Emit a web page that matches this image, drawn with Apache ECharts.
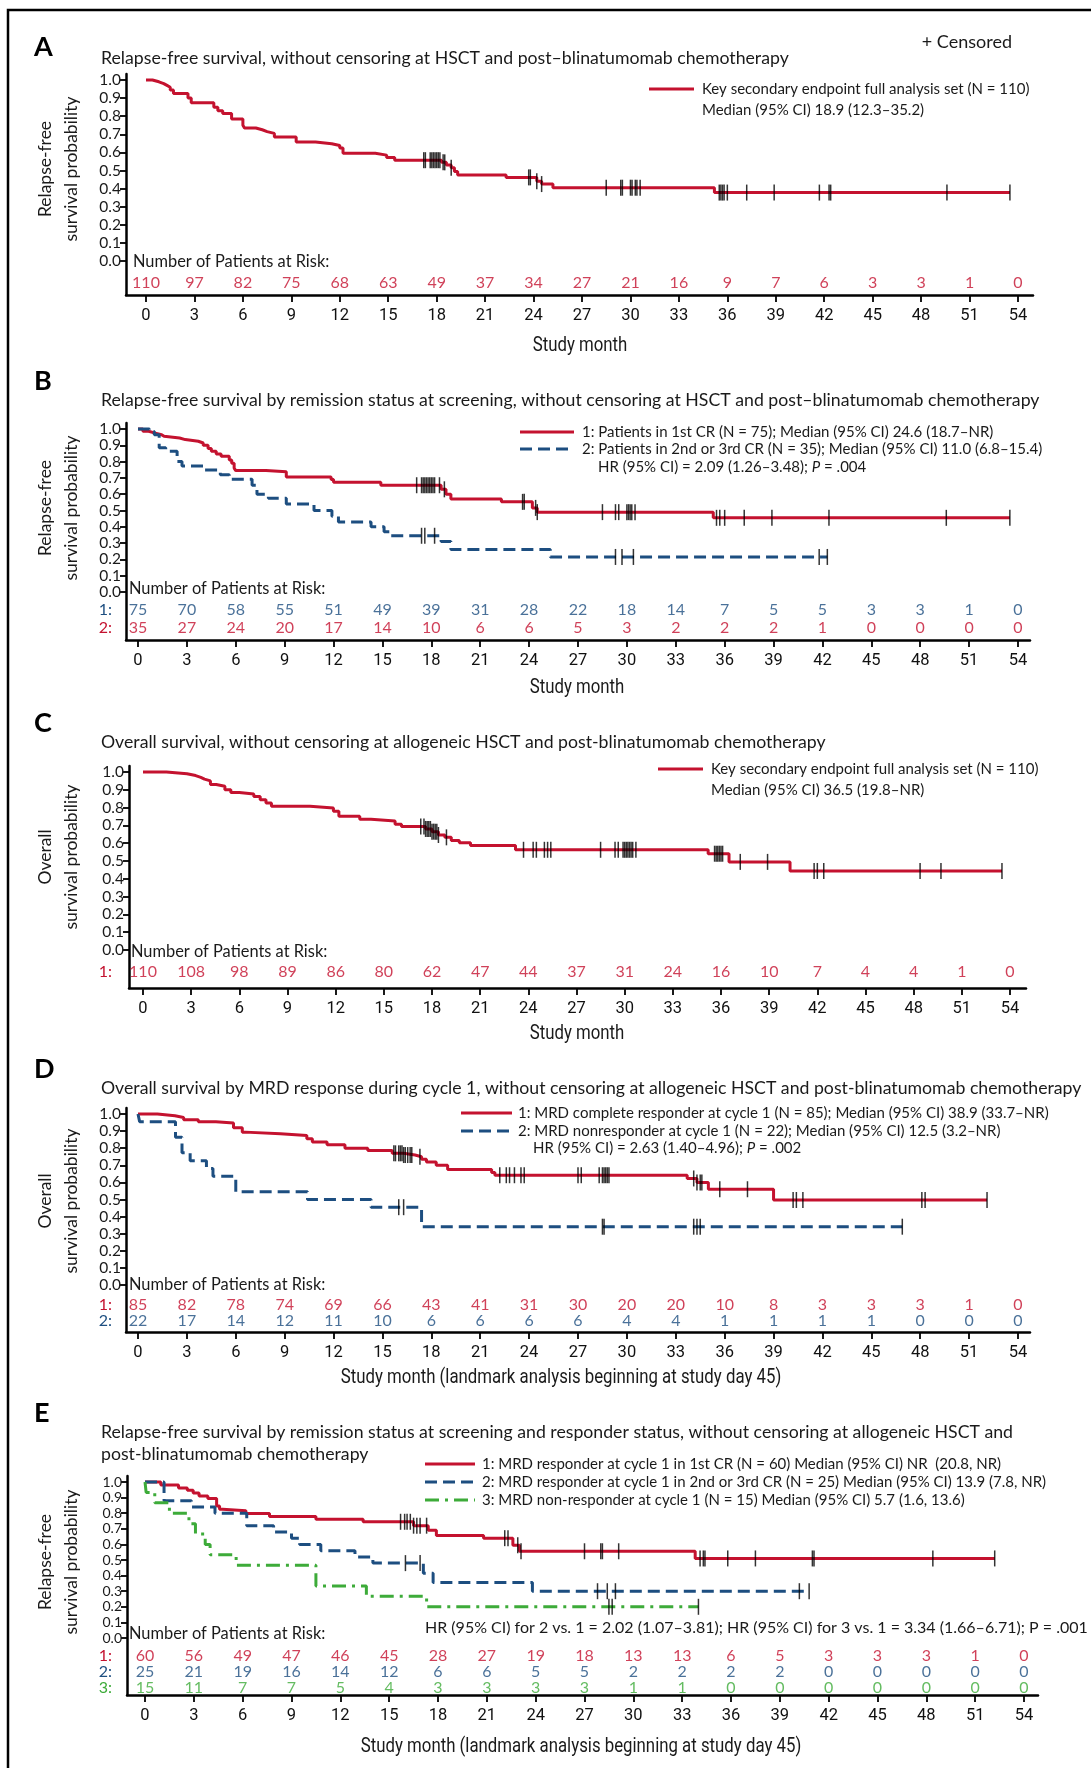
<!DOCTYPE html>
<html><head><meta charset="utf-8">
<script src="https://cdn.jsdelivr.net/npm/echarts@6/dist/echarts.min.js"></script>
<style>html,body{margin:0;padding:0;background:#fff}#c{width:1091px;height:1768px}</style>
</head><body><div id="c"></div>
<script>
// ---------- DATA ----------
const monthTicks = [0,3,6,9,12,15,18,21,24,27,30,33,36,39,42,45,48,51,54];
const yTicks = [0,0.1,0.2,0.3,0.4,0.5,0.6,0.7,0.8,0.9,1.0];

// Panel A
const aTimes = [0,0.4,0.8,1.1,1.3,1.5,1.7,2.6,2.8,4.2,4.45,4.75,5.3,6.0,6.1,6.8,7.2,7.5,7.95,9.3,10.5,11.5,12.0,12.2,14.2,14.9,15.4,18.3,18.6,18.9,19.1,19.3,22.3,24.2,24.5,25.2,35.2];
const aSurv  = [1,0.99,0.98,0.97,0.96,0.945,0.925,0.90,0.875,0.85,0.83,0.815,0.785,0.75,0.735,0.725,0.715,0.705,0.685,0.657,0.648,0.638,0.625,0.595,0.585,0.572,0.557,0.545,0.53,0.515,0.495,0.475,0.462,0.44,0.425,0.405,0.378];
const aCens  = [17.2,17.3,17.6,17.7,17.8,17.9,18.0,18.1,18.2,18.4,18.5,18.9,23.7,23.8,24.2,24.5,28.5,29.4,29.5,30.0,30.1,30.3,30.4,30.6,35.5,35.6,35.7,35.8,36.0,37.2,38.9,41.7,42.3,42.4,49.6,53.5];
const aRisk  = [110,97,82,75,68,63,49,37,34,27,21,16,9,7,6,3,3,1,0];

// Panel B
const b1Times = [0,0.3,0.65,1.0,1.45,1.6,2.55,2.9,3.7,4.0,4.3,4.5,4.8,5.1,5.6,5.75,5.9,6.0,7.85,9.1,11.85,12.0,14.9,18.6,18.9,19.2,22.3,24.2,24.5,35.3];
const b1Surv  = [1,0.986,0.976,0.965,0.955,0.945,0.935,0.925,0.914,0.90,0.88,0.863,0.847,0.833,0.81,0.79,0.76,0.745,0.737,0.706,0.69,0.673,0.655,0.63,0.60,0.571,0.553,0.516,0.49,0.455];
const b1Cens  = [17.1,17.4,17.5,17.6,17.7,17.8,17.9,18.0,18.1,18.2,18.5,18.8,23.6,23.7,24.4,24.5,28.5,29.3,29.5,30.0,30.1,30.2,30.3,30.5,35.5,35.7,36.0,37.2,38.9,42.4,49.6,53.5];
const b2Times = [0,0.7,1.0,1.3,1.7,2.4,2.7,4.0,5.05,5.6,7.0,7.3,8.0,9.1,10.8,11.9,12.3,14.3,15.1,15.5,18.6,19.2,25.3];
const b2Surv  = [1,0.985,0.965,0.885,0.864,0.80,0.773,0.749,0.72,0.692,0.655,0.60,0.575,0.54,0.50,0.465,0.43,0.40,0.37,0.345,0.31,0.26,0.215];
const b2Cens  = [17.4,17.6,18.2,29.3,29.7,30.4,41.8,42.3];
const bRisk1  = [75,70,58,55,51,49,39,31,28,22,18,14,7,5,5,3,3,1,0];
const bRisk2  = [35,27,24,20,17,14,10,6,6,5,3,2,2,2,1,0,0,0,0];

// Panel C
const cTimes = [0,1.46,2.74,3.28,3.6,3.83,4.2,4.56,5.1,5.47,6.0,6.9,7.3,7.66,8.0,10.4,11.86,12.2,13.5,14.2,15.7,16.1,17.6,18.0,18.4,18.8,19.2,19.7,20.4,23.2,35.2,36.5,40.3];
const cSurv  = [1,0.99,0.98,0.97,0.96,0.95,0.93,0.92,0.90,0.885,0.877,0.862,0.844,0.826,0.807,0.798,0.78,0.752,0.734,0.725,0.706,0.694,0.68,0.665,0.646,0.633,0.615,0.602,0.587,0.563,0.541,0.495,0.444];
const cCens  = [17.3,17.5,17.6,17.7,17.8,17.9,18.0,18.1,18.2,18.3,18.4,18.9,23.7,24.3,24.5,25.0,25.2,25.4,28.5,29.4,29.6,29.9,30.0,30.1,30.2,30.3,30.4,30.5,30.7,35.6,35.7,35.8,35.9,36.0,36.1,37.2,38.9,41.8,42.0,42.4,48.4,49.7,53.5];
const cRisk  = [110,108,98,89,86,80,62,47,44,37,31,24,16,10,7,4,4,1,0];

// Panel D
const d1Times = [0,1.19,2.27,2.8,3.7,4.78,5.86,6.4,6.58,8.74,10.36,10.7,11.6,12.7,14.1,15.6,16.3,17.0,17.4,17.7,18.3,19.0,21.7,21.9,33.7,34.3,35.0,39.0];
const d1Surv  = [1,0.99,0.98,0.967,0.955,0.948,0.92,0.894,0.884,0.874,0.855,0.836,0.82,0.80,0.787,0.77,0.76,0.75,0.735,0.72,0.70,0.675,0.658,0.642,0.623,0.60,0.56,0.497];
const d1Cens  = [15.7,15.8,16.0,16.1,16.2,16.3,16.4,16.55,16.7,16.8,17.3,22.2,22.6,22.8,23.1,23.5,23.7,27.0,27.2,28.3,28.5,28.6,28.7,28.8,28.9,34.1,34.3,34.5,34.6,35.7,37.4,40.2,40.4,40.8,48.1,48.3,52.1];
const d2Times = [0,0.1,2.3,2.7,3.2,4.2,4.6,6.0,10.4,14.3,17.4];
const d2Surv  = [1,0.955,0.864,0.773,0.727,0.682,0.636,0.545,0.5,0.455,0.341];
const d2Cens  = [16.0,16.3,28.5,28.6,34.1,34.3,34.5,46.9];
const dRisk1  = [85,82,78,74,69,66,43,41,31,30,20,20,10,8,3,3,3,1,0];
const dRisk2  = [22,17,14,12,11,10,6,6,6,6,4,4,1,1,1,1,0,0,0];

// Panel E
const e1Times = [0,0.97,2.06,2.6,2.96,3.32,3.86,4.4,4.58,4.77,6.2,7.65,10.5,13.4,16.5,17.4,17.9,20.8,22.6,23.0,33.8];
const e1Surv  = [1,0.98,0.962,0.947,0.93,0.91,0.895,0.846,0.825,0.815,0.798,0.779,0.762,0.745,0.72,0.69,0.657,0.64,0.594,0.556,0.51];
const e1Cens  = [15.7,15.95,16.1,16.3,16.5,16.7,16.9,17.3,22.1,22.3,22.9,23.1,27.0,28.0,28.1,29.1,34.1,34.3,34.4,35.8,37.5,41.0,41.1,48.4,52.2];
const e2Times = [0,1.17,2.85,4.3,6.25,7.9,9.0,9.5,10.8,12.9,14.0,17.1,17.7,23.8];
const e2Surv  = [1,0.88,0.84,0.80,0.72,0.68,0.64,0.60,0.56,0.52,0.48,0.415,0.355,0.30];
const e2Cens  = [16.0,16.9,27.8,28.4,28.9,40.2,40.8];
const e3Times = [0,0.07,0.6,1.5,2.7,3.1,3.7,4.0,5.6,10.5,13.6,17.3];
const e3Surv  = [1,0.933,0.867,0.80,0.733,0.667,0.60,0.533,0.467,0.333,0.267,0.20];
const e3Cens  = [28.5,28.7,34.0];
const eRisk1  = [60,56,49,47,46,45,28,27,19,18,13,13,6,5,3,3,3,1,0];
const eRisk2  = [25,21,19,16,14,12,6,6,5,5,2,2,2,2,0,0,0,0,0];
const eRisk3  = [15,11,7,7,5,4,3,3,3,3,1,1,0,0,0,0,0,0,0];

// ---------- STYLE / LAYOUT ----------
const RED = '#c4122f', BLUE = '#1d4e80', GREEN = '#3dab39';
const TXT = "Lato, 'Open Sans', sans-serif";
const COND = "Roboto, 'Open Sans', sans-serif";
const DASH = [12, 6], DASHDOT = [14, 6, 3, 6];

const LAYOUT = [
  {axisX:126, x0:146, x54:1018, axisRight:1033, top:74,   y1:80,   y0:261,  xAxisY:295, yFont:15.5},
  {axisX:126, x0:138, x54:1018, axisRight:1030, top:423,  y1:429,  y0:592,  xAxisY:640, yFont:15.5},
  {axisX:129, x0:143, x54:1010, axisRight:1026, top:766,  y1:772,  y0:950,  xAxisY:988, yFont:15.5},
  {axisX:126, x0:138, x54:1018, axisRight:1030, top:1108, y1:1114, y0:1285, xAxisY:1332, yFont:15.5},
  {axisX:127, x0:145, x54:1024, axisRight:1038, top:1476, y1:1482, y0:1638, xAxisY:1695, yFont:14}
];

function survAt(t, times, surv) {
  let s = surv[0];
  for (let i = 0; i < times.length; i++) { if (times[i] <= t) s = surv[i]; }
  return s;
}

const grids = [], xAxes = [], yAxes = [], series = [], graphics = [];

function txt(x, y, text, o) {
  o = o || {};
  graphics.push({type:'text', x:x, y:y, rotation:o.rot || 0, scaleX:o.sx || 1, silent:true, style:{
    text:text, fill:o.color || '#1a1a1a', fontSize:o.size || 15, fontFamily:o.font || TXT,
    fontWeight:o.weight || 'normal', align:o.align || 'left', verticalAlign:'middle', rich:o.rich}});
}
function legLine(x1, x2, y, color, dash) {
  graphics.push({type:'line', silent:true, shape:{x1:x1, y1:y, x2:x2, y2:y},
    style:{stroke:color, lineWidth:3, lineDash:dash || null}});
}

function addPanel(i, curves, risks) {
  const L = LAYOUT[i];
  const ppm = (L.x54 - L.x0) / 54;
  const ppy = L.y0 - L.y1;
  grids.push({left:L.axisX, top:L.top, width:L.axisRight - L.axisX, height:L.xAxisY - L.top, containLabel:false});
  xAxes.push({gridIndex:i, type:'value',
    min:-(L.x0 - L.axisX) / ppm, max:54 + (L.axisRight - L.x54) / ppm,
    axisLine:{show:true, onZero:false, lineStyle:{color:'#000', width:2.5}},
    axisTick:{show:true, length:7, customValues:monthTicks, lineStyle:{color:'#000', width:1.8}},
    axisLabel:{show:true, customValues:monthTicks, fontSize:16.5, fontFamily:COND, color:'#111', margin:12,
      showMinLabel:true, showMaxLabel:true, hideOverlap:false},
    splitLine:{show:false}});
  yAxes.push({gridIndex:i, type:'value',
    min:-(L.xAxisY - L.y0) / ppy, max:1 + (L.y1 - L.top) / ppy,
    axisLine:{show:true, onZero:false, lineStyle:{color:'#000', width:2.5}},
    axisTick:{show:true, length:6, customValues:yTicks, lineStyle:{color:'#000', width:1.8}},
    axisLabel:{show:true, customValues:yTicks, formatter:v => v.toFixed(1), fontSize:L.yFont, lineHeight:11, fontFamily:TXT, color:'#1a1a1a', margin:5,
      showMinLabel:true, showMaxLabel:true, hideOverlap:false},
    splitLine:{show:false}});
  curves.forEach(c => {
    const data = c.t.map((t, k) => [t, c.s[k]]);
    const endT = Math.max.apply(null, c.cens);
    if (endT > c.t[c.t.length - 1]) data.push([endT, c.s[c.s.length - 1]]);
    series.push({type:'line', xAxisIndex:i, yAxisIndex:i, data:data, step:'end', symbol:'none', showSymbol:false,
      lineStyle:{color:c.color, width:3, type:c.dash || 'solid'}, z:2, silent:true, animation:false});
    series.push({type:'scatter', xAxisIndex:i, yAxisIndex:i, symbol:'rect', symbolSize:[1.5, 16],
      itemStyle:{color:'#000'}, z:5, silent:true, animation:false,
      data:c.cens.map(t => [t, survAt(t, c.t, c.s)])});
  });
  risks.forEach(r => {
    const yv = (L.y0 - r.y) / ppy;
    series.push({type:'scatter', xAxisIndex:i, yAxisIndex:i, symbolSize:1, itemStyle:{color:'rgba(0,0,0,0)'}, silent:true, animation:false,
      z:6, label:{show:true, position:'inside', formatter:p => String(p.value[2]), color:r.color, fontSize:16, fontFamily:TXT},
      labelLayout:{hideOverlap:false}, data:monthTicks.map((m, k) => [m, yv, r.n[k]])});
    if (r.label) txt(112, r.y, r.label, {color:r.color, align:'right', size:16});
  });
}

// Panel A
addPanel(0, [{t:aTimes, s:aSurv, cens:aCens, color:RED}], [{n:aRisk, y:283, color:RED}]);
// Panel B
addPanel(1, [{t:b1Times, s:b1Surv, cens:b1Cens, color:RED}, {t:b2Times, s:b2Surv, cens:b2Cens, color:BLUE, dash:DASH}],
  [{n:bRisk1, y:610, color:BLUE, label:'1:'}, {n:bRisk2, y:628, color:RED, label:'2:'}]);
// Panel C
addPanel(2, [{t:cTimes, s:cSurv, cens:cCens, color:RED}], [{n:cRisk, y:972, color:RED, label:'1:'}]);
// Panel D
addPanel(3, [{t:d1Times, s:d1Surv, cens:d1Cens, color:RED}, {t:d2Times, s:d2Surv, cens:d2Cens, color:BLUE, dash:DASH}],
  [{n:dRisk1, y:1305, color:RED, label:'1:'}, {n:dRisk2, y:1321, color:BLUE, label:'2:'}]);
// Panel E
addPanel(4, [{t:e1Times, s:e1Surv, cens:e1Cens, color:RED}, {t:e2Times, s:e2Surv, cens:e2Cens, color:BLUE, dash:DASH},
  {t:e3Times, s:e3Surv, cens:e3Cens, color:GREEN, dash:DASHDOT}],
  [{n:eRisk1, y:1656, color:RED, label:'1:'}, {n:eRisk2, y:1672, color:BLUE, label:'2:'}, {n:eRisk3, y:1688, color:GREEN, label:'3:'}]);

// ---------- TEXT / FRAME ----------
graphics.push({type:'polyline', silent:true, shape:{points:[[8,1768],[8,10],[1091,10]]}, style:{stroke:'#000', lineWidth:2.5, fill:null}});

const letters = [['A',47],['B',381],['C',723],['D',1069],['E',1413]];
letters.forEach(l => txt(34, l[1], l[0], {size:27, weight:'bold', color:'#000'}));

const TS = 17.7;
txt(101, 58, 'Relapse-free survival, without censoring at HSCT and post\u2013blinatumomab chemotherapy', {size:TS});
txt(101, 400, 'Relapse-free survival by remission status at screening, without censoring at HSCT and post\u2013blinatumomab chemotherapy', {size:TS});
txt(101, 742, 'Overall survival, without censoring at allogeneic HSCT and post-blinatumomab chemotherapy', {size:TS});
txt(101, 1088, 'Overall survival by MRD response during cycle 1, without censoring at allogeneic HSCT and post-blinatumomab chemotherapy', {size:TS});
txt(101, 1432, 'Relapse-free survival by remission status at screening and responder status, without censoring at allogeneic HSCT and', {size:TS});
txt(101, 1454, 'post-blinatumomab chemotherapy', {size:TS});

txt(1012, 42, '+ Censored', {size:18, align:'right'});

const LS = 15;
const ITAL = {i:{fontStyle:'italic', fontSize:LS, fontFamily:TXT, fill:'#1a1a1a'}};
// Legend A
legLine(649, 694, 89, RED);
txt(702, 89, 'Key secondary endpoint full analysis set (N = 110)', {size:LS});
txt(702, 110, 'Median (95% CI) 18.9 (12.3\u201335.2)', {size:LS});
// Legend B
legLine(520, 574, 432, RED);
legLine(520, 574, 449, BLUE, DASH);
txt(582, 432, '1: Patients in 1st CR (N = 75); Median (95% CI) 24.6 (18.7\u2013NR)', {size:LS});
txt(582, 449, '2: Patients in 2nd or 3rd CR (N = 35); Median (95% CI) 11.0 (6.8\u201315.4)', {size:LS});
txt(598, 467, 'HR (95% CI) = 2.09 (1.26\u20133.48); {i|P} = .004', {size:LS, rich:ITAL});
// Legend C
legLine(658, 703, 769, RED);
txt(711, 769, 'Key secondary endpoint full analysis set (N = 110)', {size:LS});
txt(711, 790, 'Median (95% CI) 36.5 (19.8\u2013NR)', {size:LS});
// Legend D
legLine(461, 512, 1113, RED);
legLine(461, 512, 1131, BLUE, DASH);
txt(518, 1113, '1: MRD complete responder at cycle 1 (N = 85); Median (95% CI) 38.9 (33.7\u2013NR)', {size:LS});
txt(518, 1131, '2: MRD nonresponder at cycle 1 (N = 22); Median (95% CI) 12.5 (3.2\u2013NR)', {size:LS});
txt(533, 1148, 'HR (95% CI) = 2.63 (1.40\u20134.96); {i|P} = .002', {size:LS, rich:ITAL});
// Legend E
legLine(425, 475, 1464, RED);
legLine(425, 475, 1482, BLUE, DASH);
legLine(425, 475, 1500, GREEN, DASHDOT);
txt(482, 1464, '1: MRD responder at cycle 1 in 1st CR (N = 60) Median (95% CI) NR  (20.8, NR)', {size:LS});
txt(482, 1482, '2: MRD responder at cycle 1 in 2nd or 3rd CR (N = 25) Median (95% CI) 13.9 (7.8, NR)', {size:LS});
txt(482, 1500, '3: MRD non-responder at cycle 1 (N = 15) Median (95% CI) 5.7 (1.6, 13.6)', {size:LS});
txt(425, 1628, 'HR (95% CI) for 2 vs. 1 = 2.02 (1.07\u20133.81); HR (95% CI) for 3 vs. 1 = 3.34 (1.66\u20136.71); P = .001', {size:16});

// Risk titles
[[133,262],[129,589],[131,952],[129,1285],[129,1634]].forEach(p => txt(p[0], p[1], 'Number of Patients at Risk:', {size:16.4}));

// Y axis names
const yNames = [['Relapse-free',169],['Relapse-free',508],['Overall',857],['Overall',1201],['Relapse-free',1562]];
yNames.forEach(n => {
  txt(45, n[1], n[0], {size:17.5, rot:Math.PI/2, align:'center'});
  txt(71, n[1], 'survival probability', {size:17.5, rot:Math.PI/2, align:'center'});
});

// X axis names (condensed)
const XN = {size:20, font:COND, align:'center', sx:0.84};
txt(580, 346, 'Study month', XN);
txt(577, 688, 'Study month', XN);
txt(577, 1034, 'Study month', XN);
txt(561, 1378, 'Study month (landmark analysis beginning at study day 45)', XN);
txt(581, 1747, 'Study month (landmark analysis beginning at study day 45)', XN);

const chart = echarts.init(document.getElementById('c'), null, {renderer:'canvas', width:1091, height:1768});
chart.setOption({
  animation:false,
  backgroundColor:'#fff',
  grid:grids, xAxis:xAxes, yAxis:yAxes, series:series, graphic:graphics
});
</script></body></html>
